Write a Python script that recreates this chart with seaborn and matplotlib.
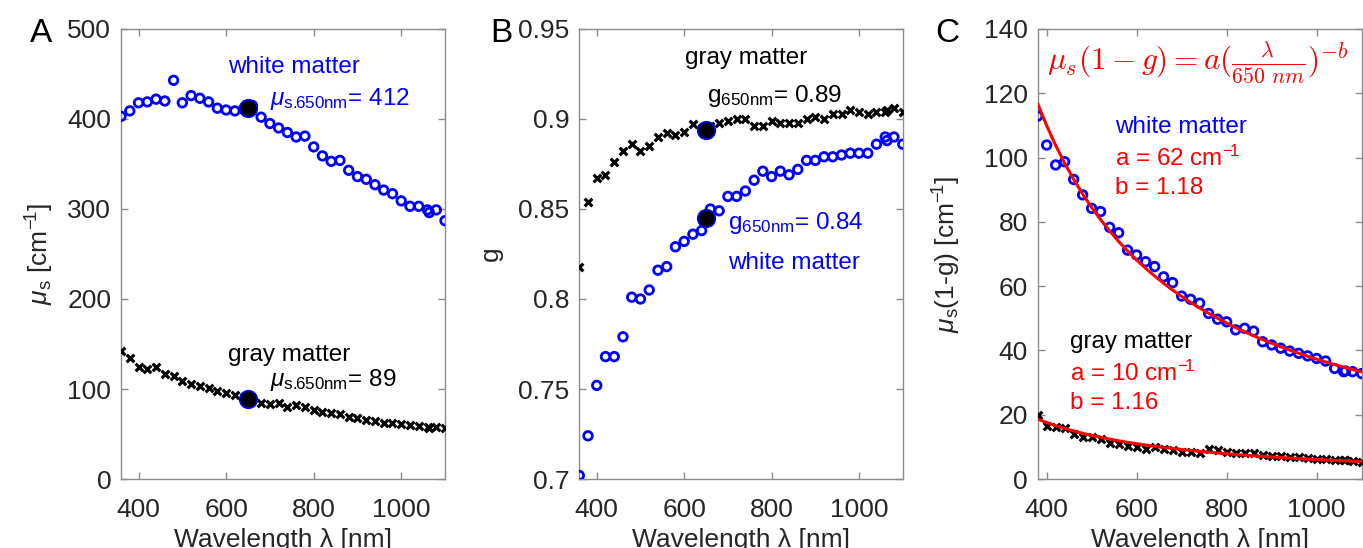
import numpy as np
import pandas as pd
import seaborn as sns
from matplotlib import pyplot as plt

# wavelengths [nm] (1064 nm is the extra laser line)
lam = [360, 380, 400, 420, 440, 460, 480, 500, 520, 540, 560, 580, 600, 620, 640, 660, 680,
       700, 720, 740, 760, 780, 800, 820, 840, 860, 880, 900, 920, 940, 960, 980, 1000,
       1020, 1040, 1060, 1064, 1080, 1100]

# A: scattering coefficient mu_s [cm^-1]
mus_white = [403, 409, 418, 419, 422, 420, 443, 418, 426, 423, 419, 412, 410, 409, 411, 415, 402,
             395, 390, 385, 380, 381, 369, 359, 353, 354, 343, 336, 333, 327, 321, 317, 309,
             303, 303, 299, 296, 299, 287]
mus_gray = [142, 135, 125, 122, 125, 117, 114, 109, 106, 103, 101, 98, 96, 93, 91, 88, 85,
            83, 84, 80, 82, 80, 77, 75, 73, 72, 68.5, 67.4, 65.6, 64.4, 62.6, 61.9, 61.1,
            60, 58.9, 57.4, 57, 57.4, 56.3]

# B: anisotropy g
g_white = [0.702, 0.724, 0.752, 0.768, 0.768, 0.779, 0.801, 0.800, 0.805, 0.816, 0.818, 0.829,
           0.832, 0.836, 0.838, 0.850, 0.849, 0.857, 0.857, 0.860, 0.866, 0.871, 0.868, 0.871,
           0.869, 0.872, 0.877, 0.877, 0.879, 0.879, 0.880, 0.881, 0.881, 0.881, 0.886,
           0.890, 0.888, 0.890, 0.886]
g_gray = [0.818, 0.854, 0.867, 0.869, 0.876, 0.882, 0.886, 0.882, 0.885, 0.890, 0.892, 0.891,
          0.893, 0.897, 0.895, 0.896, 0.898, 0.899, 0.900, 0.900, 0.896, 0.896, 0.899, 0.898,
          0.898, 0.898, 0.900, 0.901, 0.900, 0.903, 0.903, 0.905, 0.904, 0.903, 0.904,
          0.904, 0.905, 0.906, 0.904]

# C: reduced scattering mu_s(1-g) [cm^-1], from 380 nm
lam_c = lam[1:]
musp_white = [112.9, 103.9, 97.7, 98.7, 93.2, 88.4, 84.2, 83.2, 78.3, 76.6, 71.2, 69.7, 67.6,
              66.1, 62.9, 61.1, 56.9, 55.9, 54.7, 51.5, 49.7, 48.9, 46.4, 46.9, 46.0, 42.7,
              41.7, 40.7, 39.8, 39.1, 38.3, 37.5, 36.7, 34.4, 33.4, 33.6, 33.4, 32.8]
musp_gray = [19.9, 16.5, 16.1, 16.0, 14.0, 13.0, 13.0, 12.3, 11.3, 10.9, 10.4, 10.0, 9.3, 9.9,
             9.3, 9.0, 8.5, 8.4, 8.0, 9.2, 9.0, 8.3, 8.2, 8.2, 8.2, 7.5, 7.3, 7.3, 6.9, 6.7,
             6.4, 6.2, 6.2, 5.9, 5.9, 5.9, 5.7, 5.4]

# values at 650 nm and fit parameters
ref_lam = 650
mus650_white, mus650_gray = 412, 89
g650_white, g650_gray = 0.845, 0.894
a_white, b_white = 62, 1.18
a_gray, b_gray = 10, 1.16

sns.set_theme(style='white')
plt.rcParams['font.family'] = ['Liberation Sans', 'DejaVu Sans']
plt.rcParams['mathtext.fontset'] = 'custom'
plt.rcParams['mathtext.rm'] = 'Liberation Sans'
plt.rcParams['mathtext.it'] = 'Liberation Sans:italic'
plt.rcParams['mathtext.bf'] = 'Liberation Sans:bold'

BLUE, RED, TXT, SPINE = '#0000ff', '#ff0000', '#262626', '#8c8c8c'
FS = 17.5
TICK_FS = 19
SUP = r'$^{-\!1}$'
MU650 = r'$\mu_{\rm s.\!\!650nm}$'

fig = plt.figure(figsize=(13.63, 5.48), dpi=100)
axA = fig.add_axes([0.0888, 0.1259, 0.2377, 0.8212])
axB = fig.add_axes([0.4250, 0.1259, 0.2373, 0.8212])
axC = fig.add_axes([0.7613, 0.1259, 0.2377, 0.8212])

df = pd.DataFrame({'lam': lam, 'mus_w': mus_white, 'mus_g': mus_gray, 'g_w': g_white, 'g_g': g_gray})
dfc = pd.DataFrame({'lam': lam_c, 'w': musp_white, 'g': musp_gray})


def circles(ax, x, y, data):
    sns.scatterplot(data=data, x=x, y=y, marker='o', s=38, facecolor='none', edgecolor=BLUE,
                    linewidth=2.0, ax=ax, zorder=3)


def crosses(ax, x, y, data):
    sns.scatterplot(data=data, x=x, y=y, marker='x', s=30, color='black', linewidth=2.3,
                    ax=ax, zorder=3)


def dot(ax, x, y):
    sns.scatterplot(x=[x], y=[y], marker='o', s=160, color='black', edgecolor=BLUE,
                    linewidth=1.2, ax=ax, zorder=5)


# A
circles(axA, 'lam', 'mus_w', df)
crosses(axA, 'lam', 'mus_g', df)
dot(axA, ref_lam, mus650_white)
dot(axA, ref_lam, mus650_gray)
axA.set_xlim(360, 1100)
axA.set_ylim(0, 500)
axA.set_yticks([0, 100, 200, 300, 400, 500])
axA.set_ylabel(r'$\mu_{\rm s}$ [cm' + SUP + ']')
axA.text(755, 458, 'white matter', color=BLUE, fontsize=FS, ha='center', va='center')
axA.text(700, 422, MU650 + '= %d' % mus650_white, color=BLUE, fontsize=FS,
         ha='left', va='center')
axA.text(744, 138, 'gray matter', color='black', fontsize=FS, ha='center', va='center')
axA.text(700, 110, MU650 + '= %d' % mus650_gray, color='black', fontsize=FS,
         ha='left', va='center')

# B
circles(axB, 'lam', 'g_w', df)
crosses(axB, 'lam', 'g_g', df)
dot(axB, ref_lam, g650_gray)
dot(axB, ref_lam, g650_white)
axB.set_xlim(360, 1100)
axB.set_ylim(0.7, 0.95)
axB.set_yticks([0.7, 0.75, 0.8, 0.85, 0.9, 0.95])
axB.set_yticklabels(['0.7', '0.75', '0.8', '0.85', '0.9', '0.95'])
axB.set_ylabel('g')
axB.text(741, 0.934, 'gray matter', color='black', fontsize=FS, ha='center', va='center')
axB.text(652, 0.913, r'g$_{\rm 650nm}$= 0.89', color='black', fontsize=FS, ha='left', va='center')
axB.text(700, 0.842, r'g$_{\rm 650nm}$= 0.84', color=BLUE, fontsize=FS, ha='left', va='center')
axB.text(700, 0.820, 'white matter', color=BLUE, fontsize=FS, ha='left', va='center')

# C: fit curves mu_s(1-g) = a (lam/650)^-b evaluated at the measured wavelengths
dfc['fit_w'] = a_white * (dfc['lam'] / ref_lam) ** (-b_white)
dfc['fit_g'] = a_gray * (dfc['lam'] / ref_lam) ** (-b_gray)
circles(axC, 'lam', 'w', dfc)
crosses(axC, 'lam', 'g', dfc)
sns.lineplot(data=dfc, x='lam', y='fit_w', color=RED, linewidth=2.2, ax=axC, zorder=4)
sns.lineplot(data=dfc, x='lam', y='fit_g', color=RED, linewidth=2.2, ax=axC, zorder=4)
axC.set_xlim(380, 1100)
axC.set_ylim(0, 140)
axC.set_yticks(range(0, 141, 20))
axC.set_ylabel(r'$\mu_{\rm s}$(1-g) [cm' + SUP + ']')
axC.text(400, 129.5, r'$\mu_s(1-g) = a(\frac{\lambda}{650\ nm})^{-b}$', color=RED,
         fontsize=22.5, ha='left', va='center', math_fontfamily='cm')
axC.text(551, 109.6, 'white matter', color=BLUE, fontsize=FS, ha='left', va='center')
axC.text(551, 99.8, 'a = %d cm' % a_white + SUP, color=RED, fontsize=FS, ha='left', va='center')
axC.text(551, 90.5, 'b = %.2f' % b_white, color=RED, fontsize=FS, ha='left', va='center')
axC.text(451, 42.7, 'gray matter', color='black', fontsize=FS, ha='left', va='center')
axC.text(451, 32.9, 'a = %d cm' % a_gray + SUP, color=RED, fontsize=FS, ha='left', va='center')
axC.text(451, 23.5, 'b = %.2f' % b_gray, color=RED, fontsize=FS, ha='left', va='center')

for ax, letter, lx in [(axA, 'A', 41), (axB, 'B', 501), (axC, 'C', 947)]:
    ax.set_xticks([400, 600, 800, 1000])
    ax.set_xlabel('Wavelength λ [nm]', fontsize=19, color=TXT, labelpad=4)
    ax.yaxis.label.set_size(19)
    ax.yaxis.label.set_color(TXT)
    ax.tick_params(direction='in', length=5, width=1, color=SPINE, labelcolor=TXT,
                   labelsize=TICK_FS, top=True, right=True, bottom=True, left=True)
    ax.tick_params(axis='x', pad=14)
    ax.tick_params(axis='y', pad=7)
    for s in ax.spines.values():
        s.set_color(SPINE)
        s.set_linewidth(1)
    if ax.get_legend():
        ax.get_legend().remove()
    fig.text(lx / 1363, 1 - 33 / 548, letter, fontsize=24, ha='center', va='center', color='black')

axA.yaxis.set_label_coords(-0.20, 0.5)
axB.yaxis.set_label_coords(-0.236, 0.5)
axC.yaxis.set_label_coords(-0.23, 0.5)

fig.savefig('out.png', dpi=100)
